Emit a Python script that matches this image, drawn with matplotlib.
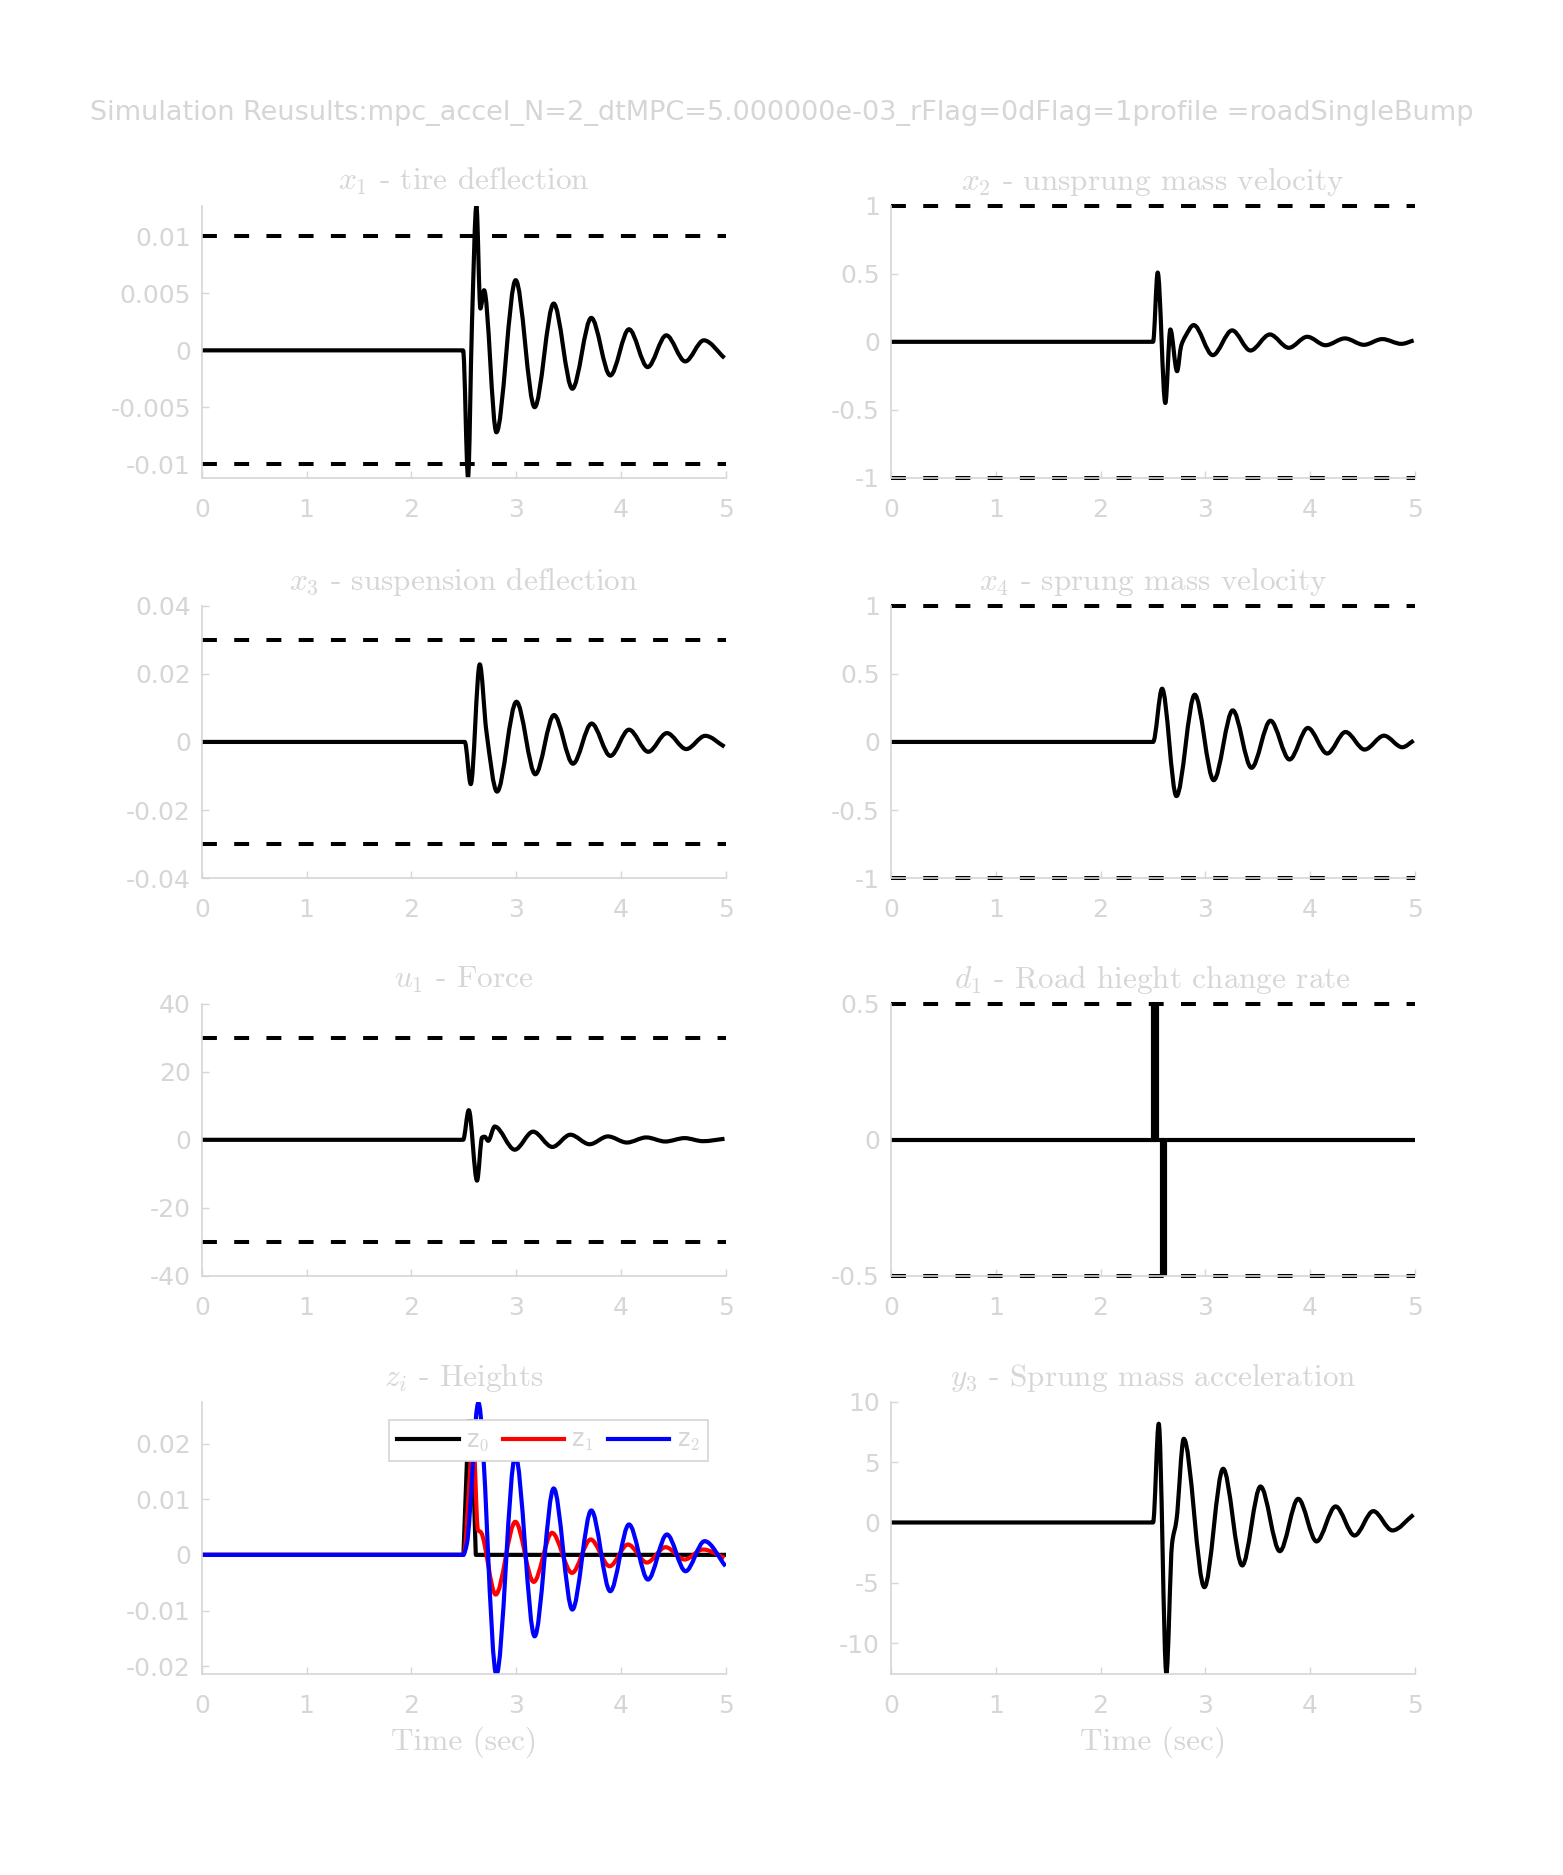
import matplotlib
matplotlib.use('Agg')
import matplotlib.pyplot as plt
from matplotlib.path import Path
from matplotlib.patches import PathPatch
from matplotlib.lines import Line2D

plt.rcParams['font.family'] = ['DejaVu Sans']
plt.rcParams['mathtext.fontset'] = 'cm'
plt.rcParams['axes.unicode_minus'] = False

GRAY = '#d6d6d6'

# x1 - tire deflection (peaks / troughs)
t_x1 = [0, 2.494, 2.541, 2.579, 2.621, 2.659, 2.694, 2.812, 2.996, 3.177, 3.359, 3.537,
        3.718, 3.899, 4.078, 4.256, 4.434, 4.615, 4.793, 4.99]
x1 = [0, 0, -0.01115, 0.0025, 0.0127, 0.00367, 0.00528, -0.00719, 0.00616, -0.00499, 0.00411,
      -0.00337, 0.00285, -0.0022, 0.00185, -0.00147, 0.00132, -0.00097, 0.00088, -0.00067]

# x2 - unsprung mass velocity
t_x2 = [0, 2.502, 2.546, 2.619, 2.667, 2.731, 2.77, 2.81, 2.890, 3.072, 3.257, 3.432, 3.617,
        3.798, 3.974, 4.149, 4.334, 4.515, 4.691, 4.873, 4.99]
x2 = [0, 0, 0.509, -0.45, 0.091, -0.216, -0.03, 0.04, 0.123, -0.098, 0.084, -0.064, 0.054,
      -0.044, 0.037, -0.025, 0.025, -0.022, 0.02, -0.015, 0.01]

# x3 - suspension deflection
t_x3 = [0, 2.510, 2.567, 2.653, 2.716, 2.818, 3.003, 3.184, 3.362, 3.543, 3.721, 3.900,
        4.078, 4.262, 4.440, 4.625, 4.806, 4.99]
x3 = [0, 0, -0.0124, 0.0228, 0.0032, -0.0146, 0.0118, -0.0095, 0.0079, -0.0064, 0.0054,
      -0.0041, 0.0036, -0.0029, 0.0026, -0.0021, 0.0018, -0.0014]

# x4 - sprung mass velocity
t_x4 = [0, 2.502, 2.588, 2.725, 2.900, 3.081, 3.263, 3.442, 3.623, 3.805, 3.980, 4.165,
        4.340, 4.522, 4.707, 4.882, 4.99]
x4 = [0, 0, 0.391, -0.398, 0.347, -0.281, 0.232, -0.19, 0.156, -0.129, 0.103, -0.085,
      0.073, -0.056, 0.046, -0.039, 0.01]

# u1 - force
t_u1 = [0, 2.494, 2.548, 2.627, 2.675, 2.700, 2.733, 2.796, 2.987, 3.162, 3.346, 3.518,
        3.702, 3.877, 4.058, 4.243, 4.425, 4.609, 4.784, 4.99]
u1 = [0, 0, 8.7, -12.0, 0.7, 0.9, -0.3, 3.9, -2.9, 2.4, -2.1, 1.5, -1.3, 1.0, -0.8, 0.7,
      -0.5, 0.5, -0.4, 0.3]

# d1 - road height change rate
t_d1 = [0, 2.505, 2.505, 2.537, 2.537, 2.585, 2.585, 2.618, 2.618, 5]
d1 = [0, 0, 0.5, 0.5, 0, 0, -0.5, -0.5, 0, 0]

# z_i - heights
t_z0 = [0, 2.497, 2.545, 2.575, 2.615, 5]
z0 = [0, 0, 0.024, 0.024, 0, 0]
t_z1 = [0, 2.494, 2.51, 2.55, 2.59, 2.635, 2.666, 2.805, 2.993, 3.168, 3.343, 3.534, 3.712,
        3.893, 4.068, 4.249, 4.427, 4.609, 4.784, 4.99]
z1 = [0, 0, 0.001, 0.012, 0.021, 0.0045, 0.004, -0.00713, 0.00594, -0.00486, 0.00396,
      -0.00324, 0.00276, -0.00204, 0.00186, -0.00138, 0.00138, -0.00084, 0.00096, -0.00054]
t_z2 = [0, 2.494, 2.53, 2.640, 2.812, 2.993, 3.177, 3.359, 3.537, 3.718, 3.899, 4.078,
        4.259, 4.440, 4.618, 4.800, 5.0]
z2 = [0, 0, 0.002, 0.0273, -0.0215, 0.0178, -0.01463, 0.01193, -0.00983, 0.00797, -0.00653,
      0.00546, -0.00444, 0.00366, -0.00294, 0.00246, -0.00204]

# y3 - sprung mass acceleration
t_y3 = [0, 2.502, 2.556, 2.629, 2.683, 2.725, 2.795, 2.992, 3.171, 3.353, 3.528, 3.712,
        3.888, 4.063, 4.245, 4.426, 4.605, 4.787, 4.988]
y3 = [0, 0, 8.18, -12.5, -1.77, 0.17, 6.93, -5.36, 4.45, -3.56, 2.98, -2.38, 1.96, -1.57,
      1.33, -1.08, 0.94, -0.66, 0.64]

titles = [r'$x_1$ - tire deflection', r'$x_2$ - unsprung mass velocity',
          r'$x_3$ - suspension deflection', r'$x_4$ - sprung mass velocity',
          r'$u_1$ - Force', r'$d_1$ - Road hieght change rate',
          r'$z_i$ - Heights', r'$y_3$ - Sprung mass acceleration']
limits = [0.01, 1, 0.03, 1, 30, 0.5, None, None]
ylims = [(-0.0112, 0.0127), (-1, 1), (-0.04, 0.04), (-1, 1), (-40, 40), (-0.5, 0.5),
         (-0.0214, 0.0275), (-12.55, 10)]
yticks = [[-0.01, -0.005, 0, 0.005, 0.01], [-1, -0.5, 0, 0.5, 1],
          [-0.04, -0.02, 0, 0.02, 0.04], [-1, -0.5, 0, 0.5, 1],
          [-40, -20, 0, 20, 40], [-0.5, 0, 0.5],
          [-0.02, -0.01, 0, 0.01, 0.02], [-10, -5, 0, 5, 10]]
xticks = [0, 1, 2, 3, 4, 5]

LW = 3.0


def smooth_curve(ax, t, v, color):
    # draws the read points as a smooth bezier path (flat tangents at the extrema)
    n = len(t)
    d = [(v[i + 1] - v[i]) / (t[i + 1] - t[i]) for i in range(n - 1)]
    m = [0.0] * n
    m[0] = d[0]
    m[-1] = d[-1]
    for i in range(1, n - 1):
        if d[i - 1] * d[i] <= 0:
            m[i] = 0.0
        else:
            m[i] = 2.0 / (1.0 / d[i - 1] + 1.0 / d[i])
    verts = [(t[0], v[0])]
    codes = [Path.MOVETO]
    for i in range(n - 1):
        h = t[i + 1] - t[i]
        verts += [(t[i] + h / 3, v[i] + m[i] * h / 3),
                  (t[i + 1] - h / 3, v[i + 1] - m[i + 1] * h / 3),
                  (t[i + 1], v[i + 1])]
        codes += [Path.CURVE4] * 3
    patch = PathPatch(Path(verts, codes), facecolor='none', edgecolor=color, lw=LW,
                      joinstyle='round', capstyle='butt', zorder=2)
    ax.add_patch(patch)


fig = plt.figure(figsize=(15.63, 18.75), dpi=100)
fig.suptitle('Simulation Reusults:mpc_accel_N=2_dtMPC=5.000000e-03_rFlag=0dFlag=1profile =roadSingleBump',
             x=0.5, y=0.9396, va='center', fontsize=19.5, color=GRAY)

lefts = [0.1292, 0.5701]
bottoms = [0.7451, 0.5317, 0.3195, 0.1072]
w, h = 0.3350, 0.1452

series = [(t_x1, x1), (t_x2, x2), (t_x3, x3), (t_x4, x4), (t_u1, u1), None, None, (t_y3, y3)]

for i in range(8):
    r, c = divmod(i, 2)
    ax = fig.add_axes([lefts[c], bottoms[r], w, h])
    if i == 6:
        ax.plot(t_z0, z0, color='black', lw=LW, solid_joinstyle='round', zorder=2)
        smooth_curve(ax, t_z1, z1, 'red')
        smooth_curve(ax, t_z2, z2, 'blue')
        handles = [Line2D([], [], color=col, lw=LW) for col in ('black', 'red', 'blue')]
        leg = ax.legend(handles, ['z$_0$', 'z$_1$', 'z$_2$'], ncol=3, loc='upper right',
                        bbox_to_anchor=(0.966, 0.934),
                        fontsize=17, handlelength=2.6, handletextpad=0.3, columnspacing=0.6,
                        fancybox=False, framealpha=1, edgecolor=GRAY, borderpad=0.35,
                        borderaxespad=0)
        for txt in leg.get_texts():
            txt.set_color(GRAY)
        leg.get_frame().set_linewidth(1.2)
    elif i == 5:
        ax.plot(t_d1, d1, color='black', lw=LW, solid_joinstyle='miter')
    else:
        t, v = series[i]
        smooth_curve(ax, t, v, 'black')
    if limits[i] is not None:
        for s in (1, -1):
            ax.plot([0, 5], [s * limits[i], s * limits[i]], color='black', lw=2.9,
                    linestyle=(0, (3.7, 4.3)), clip_on=False)
    ax.set_xlim(0, 5)
    ax.set_ylim(*ylims[i])
    ax.set_xticks(xticks)
    ax.set_xticklabels([str(x) for x in xticks])
    ax.set_yticks(yticks[i])
    ax.set_yticklabels(['%g' % v for v in yticks[i]])
    for side in ('top', 'right'):
        ax.spines[side].set_visible(False)
    for side in ('left', 'bottom'):
        ax.spines[side].set_color(GRAY)
        ax.spines[side].set_linewidth(1.2)
    ax.tick_params(direction='in', length=5, width=1.0, color=GRAY, labelcolor=GRAY,
                   labelsize=18, pad=8)
    ax.tick_params(axis='x', pad=14.5)
    ax.set_title(titles[i], fontfamily='cmr10', fontsize=22.5, color=GRAY, pad=11.5)
    if r == 3:
        ax.set_xlabel('Time (sec)', fontfamily='cmr10', fontsize=22.5, color=GRAY, labelpad=6)

fig.savefig('out.png', dpi=100)
